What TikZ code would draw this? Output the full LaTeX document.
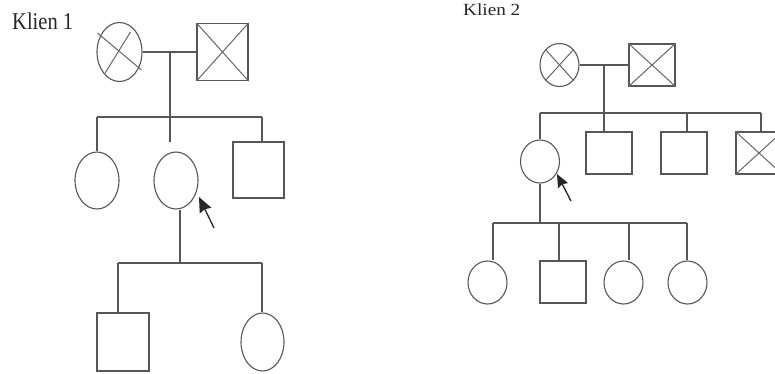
\documentclass[tikz,border=0pt]{standalone}
\usepackage{fontspec}
\setmainfont{Liberation Serif}
\usepackage{graphicx}
\usetikzlibrary{shapes.geometric,arrows.meta}
\tikzset{
  ln/.style={draw=black!66, line width=1.1pt},
  fem/.style={ln, ellipse, inner sep=0pt, minimum width=#1},
  fem/.default=44pt,
  mal/.style={ln, rectangle, inner sep=0pt},
  xline/.style={draw=black!60, line width=1pt},
  parrow/.style={draw=black!85, line width=1.3pt, -{Stealth[length=#1, width=0.85*#1, inset=1.5pt]}},
  parrow/.default=12pt,
}
\begin{document}
\begin{tikzpicture}[x=1pt,y=-1pt]
\useasboundingbox (0,0) rectangle (775,373);
\clip (0,0) rectangle (775,373);
\fill[white] (0,0) rectangle (775,373);

% ---------------- Klien 1 ----------------
\node[anchor=base west, inner sep=0pt, text=black!85] (t1) at (12,29) {\fontsize{24}{24}\selectfont\scalebox{0.855}[1]{Klien 1}};

\node[fem=45pt, minimum height=59pt] (m1) at (119.5,52) {};
\node[mal, minimum width=51pt, minimum height=57pt] (f1) at (222.5,52) {};
\draw[xline] ([shift={(-22,-19)}]m1.center) -- ([shift={(22,18)}]m1.center);
\draw[xline] ([shift={(-15,22)}]m1.center) -- ([shift={(11,-20)}]m1.center);
\draw[xline] (f1.north west) -- (f1.south east);
\draw[xline] (f1.north east) -- (f1.south west);
\draw[ln] (m1.east) -- (f1.west);

\coordinate (k1a) at (170,52);
\coordinate (k1b) at (170,117);
\coordinate (k1c) at (170,142);
\coordinate (k1L) at (97,117);
\coordinate (k1R) at (262,117);
\draw[ln] (k1a) -- (k1b) -- (k1c);
\draw[ln] (k1L) -- (k1R);

\node[fem=44pt, minimum height=57pt] (c1) at (97,180.5) {};
\node[fem=44pt, minimum height=57pt] (c2) at (176,180.5) {};
\node[mal, minimum width=51pt, minimum height=56pt] (c3) at (258.5,170) {};
\draw[ln] (k1L) -- (k1L |- c1.north);
\draw[ln] (k1R) -- (k1R |- c3.north);

\coordinate (a1t) at (214,228);
\coordinate (a1h) at (199,197);
\draw[parrow=15pt] (a1t) -- (a1h);

\coordinate (k1d) at (180,263);
\coordinate (k1dL) at (118,263);
\coordinate (k1dR) at (262,263);
\draw[ln] (k1d |- c2.south) -- (k1d);
\draw[ln] (k1dL) -- (k1dR);

\node[mal, minimum width=52pt, minimum height=58pt] (g1) at (123,342) {};
\node[fem=43pt, minimum height=58pt] (g2) at (262.5,342) {};
\draw[ln] (k1dL) -- (k1dL |- g1.north);
\draw[ln] (k1dR) -- (k1dR |- g2.north);

% ---------------- Klien 2 ----------------
\node[anchor=base west, inner sep=0pt, text=black!85] (t2) at (463,15.5) {\fontsize{17}{17}\selectfont\scalebox{1.13}[1]{Klien 2}};

\node[fem=39pt, minimum height=43pt] (m2) at (559.5,65) {};
\node[mal, minimum width=46pt, minimum height=42pt] (f2) at (652,65) {};
\draw[xline] (m2.north west) -- (m2.south east);
\draw[xline] (m2.north east) -- (m2.south west);
\draw[xline] (f2.north west) -- (f2.south east);
\draw[xline] (f2.north east) -- (f2.south west);
\draw[ln] (m2.east) -- (f2.west);

\node[fem=39pt, minimum height=43pt] (p2) at (540,161.5) {};
\node[mal, minimum width=46pt, minimum height=42pt] (s2) at (609,153) {};
\node[mal, minimum width=46pt, minimum height=42pt] (s3) at (684,153) {};
\node[mal, minimum width=46pt, minimum height=42pt] (s4) at (759,153) {};
\draw[xline] (s4.north west) -- (s4.south east);
\draw[xline] (s4.north east) -- (s4.south west);

\coordinate (k2a) at (604,65);
\coordinate (k2b) at (604,113);
\coordinate (k2L) at (540,113);
\coordinate (k2R) at (761,113);
\coordinate (k2s3) at (687,113);
\draw[ln] (k2a) -- (k2b) -- (k2b |- s2.north);
\draw[ln] (k2L) -- (k2R);
\draw[ln] (k2L) -- (k2L |- p2.north);
\draw[ln] (k2s3) -- (k2s3 |- s3.north);
\draw[ln] (k2R) -- (k2R |- s4.north);

\coordinate (a2t) at (571,201);
\coordinate (a2h) at (557,174);
\draw[parrow=13pt] (a2t) -- (a2h);

\coordinate (k2d) at (540,223);
\coordinate (k2dL) at (493,223);
\coordinate (k2d2) at (559,223);
\coordinate (k2d3) at (629,223);
\coordinate (k2dR) at (687,223);
\draw[ln] (p2.south) -- (k2d);
\draw[ln] (k2dL) -- (k2dR);

\node[fem=39pt, minimum height=43pt] (h1) at (487.5,282.5) {};
\node[mal, minimum width=46pt, minimum height=42pt] (h2) at (563,282) {};
\node[fem=39pt, minimum height=43pt] (h3) at (623.5,282.5) {};
\node[fem=39pt, minimum height=43pt] (h4) at (687.5,282.5) {};
\draw[ln] (k2dL) -- (k2dL |- h1.north);
\draw[ln] (k2d2) -- (k2d2 |- h2.north);
\draw[ln] (k2d3) -- (k2d3 |- h3.north);
\draw[ln] (k2dR) -- (k2dR |- h4.north);
\end{tikzpicture}
\end{document}
